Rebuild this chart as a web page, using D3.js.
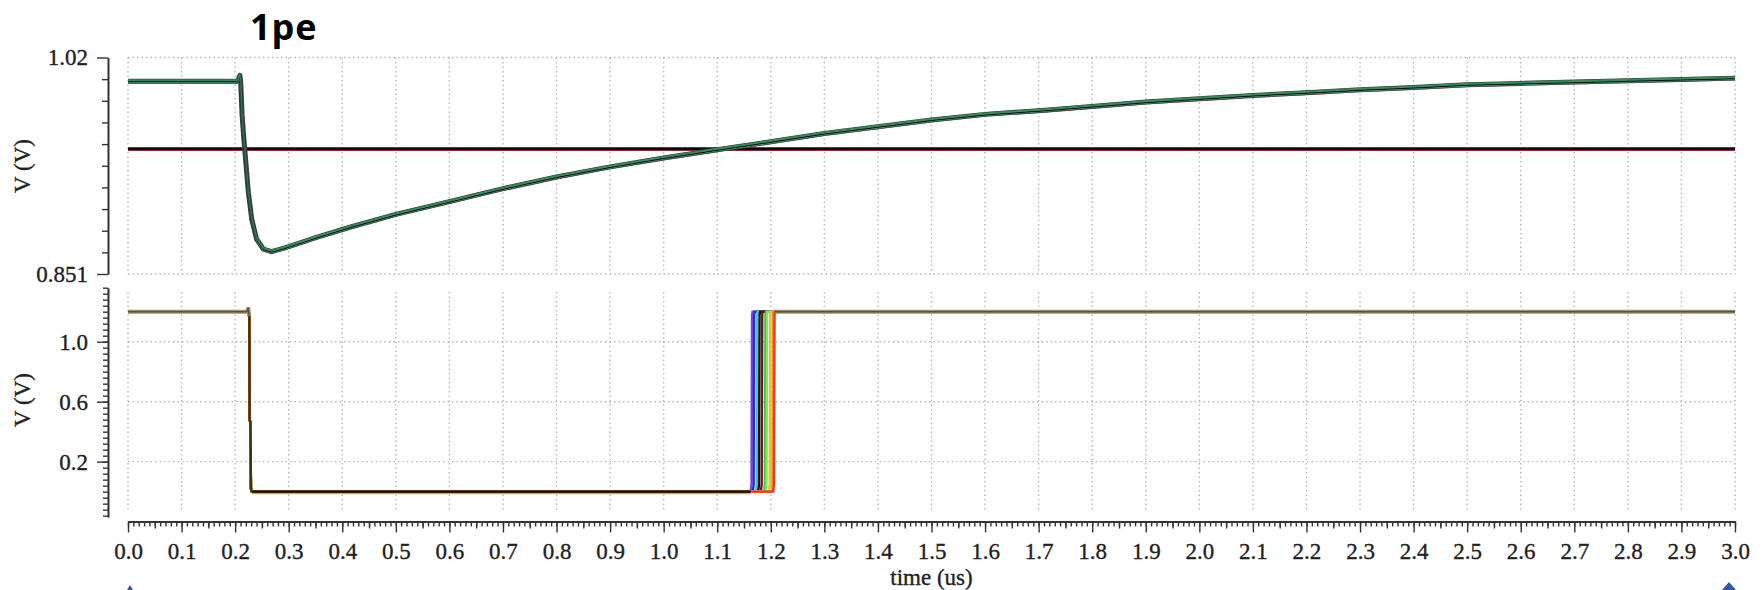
<!DOCTYPE html>
<html>
<head>
<meta charset="utf-8">
<script src="https://cdn.jsdelivr.net/npm/d3@7"></script>
<style>
  html, body { margin: 0; padding: 0; background: #fff; }
  svg { display: block; }
</style>
</head>
<body>
<svg id="chart" width="1763" height="590"></svg>
<script>
// ---------------- data ----------------
const title = "1pe";
const xLabel = "time (us)";
const yLabel = "V (V)";
const xTicks = [0.0,0.1,0.2,0.3,0.4,0.5,0.6,0.7,0.8,0.9,1.0,1.1,1.2,1.3,1.4,1.5,1.6,1.7,1.8,1.9,2.0,2.1,2.2,2.3,2.4,2.5,2.6,2.7,2.8,2.9,3.0];
const topYTicks = [0.851, 1.02];
const topYTickLabels = ["0.851", "1.02"];
const bottomYTicks = [0.2, 0.6, 1.0];

// top panel: analog output (bundle of overlapping runs)
const topT = [0, 0.205, 0.209, 0.2105, 0.213, 0.216, 0.218, 0.2247, 0.231, 0.240, 0.2527, 0.268, 0.296, 0.352, 0.414, 0.5, 0.6, 0.7, 0.8, 0.9, 1.0, 1.1, 1.2, 1.3, 1.4, 1.5, 1.6, 1.7, 1.8, 1.9, 2.0, 2.1, 2.2, 2.3, 2.4, 2.5, 2.6, 2.7, 2.8, 2.9, 3.0];
const topV = [1.0015, 1.0015, 1.006, 1.000, 0.975, 0.958, 0.948, 0.9146, 0.8938, 0.8783, 0.8705, 0.8684, 0.8718, 0.8796, 0.8875, 0.8975, 0.9075, 0.9176, 0.9267, 0.9346, 0.9416, 0.948, 0.9542, 0.9607, 0.9659, 0.9712, 0.9756, 0.9785, 0.9818, 0.9852, 0.9878, 0.9904, 0.9925, 0.9948, 0.9966, 0.9987, 0.9998, 1.0008, 1.0018, 1.0029, 1.0039];
const thresholdV = 0.9485;

// bottom panel: comparator output
const highLevel = 1.2;
const lowLevel = 0.0;
const dropT = [0, 0.222, 0.2245, 0.2255, 0.2265, 0.227, 0.2285, 0.2295, 0.231];
const dropV = [1.2, 1.2, 1.225, 1.19, 1.17, 0.48, 0.46, 0.02, 0.0];
const riseTimes = [1.164, 1.168, 1.1735, 1.178, 1.183, 1.189, 1.192, 1.198, 1.203, 1.206];
const riseColors = ["#7a3cf0", "#2b2bd0", "#2fd0d0", "#111111", "#7a1020", "#2ecc40", "#88e060", "#e8c030", "#f09030", "#e83a2a"];
const endT = 3.0;

// ---------------- layout ----------------
const svg = d3.select("#chart");
const X0 = 128, X1 = 1735;
const x = d3.scaleLinear().domain([0, 3]).range([X0, X1]);
const yTop = d3.scaleLinear().domain([0.851, 1.02]).range([274, 57.5]);
const yBot = d3.scaleLinear().domain([-0.169, 1.358]).range([517, 288]);
const SERIF = "'Liberation Serif', 'Times New Roman', serif";

const gridStyle = s => s.attr("stroke", "#b8b8b8").attr("stroke-width", 1.4).attr("stroke-dasharray", "1.5,3").attr("fill", "none");

// ---------- grids ----------
const gTopGrid = svg.append("g");
gTopGrid.selectAll("line.v").data(xTicks).join("line")
  .attr("x1", d => x(d)).attr("x2", d => x(d))
  .attr("y1", yTop(1.02)).attr("y2", yTop(0.851)).call(gridStyle);
gTopGrid.selectAll("line.h").data(topYTicks).join("line").attr("class", "h")
  .attr("x1", X0).attr("x2", X1)
  .attr("y1", d => yTop(d)).attr("y2", d => yTop(d)).call(gridStyle);

const gBotGrid = svg.append("g");
gBotGrid.selectAll("line.v").data(xTicks).join("line")
  .attr("x1", d => x(d)).attr("x2", d => x(d))
  .attr("y1", 292).attr("y2", 510).call(gridStyle);
gBotGrid.selectAll("line.h").data(bottomYTicks).join("line").attr("class", "h")
  .attr("x1", X0).attr("x2", X1)
  .attr("y1", d => yBot(d)).attr("y2", d => yBot(d)).call(gridStyle);

// ---------- top traces ----------
const topData = topT.map((t, i) => [t, topV[i]]);
const lineTop = d3.line().x(d => x(d[0])).y(d => yTop(d[1]));

// threshold line
const thr = [[0, thresholdV], [endT, thresholdV]];
svg.append("path").attr("d", lineTop(thr)).attr("stroke", "#7a3038").attr("stroke-width", 4).attr("fill", "none");
svg.append("path").attr("d", lineTop(thr)).attr("stroke", "#160607").attr("stroke-width", 2).attr("fill", "none");

// bundle of runs (same data, drawn in several colours)
const bundle = [
  {c: "#22443a", w: 5, dy: 0},
  {c: "#2e8b57", w: 1.4, dy: -1.3},
  {c: "#38b8b0", w: 1.1, dy: 1.3},
  {c: "#0c0c0c", w: 1.3, dy: 0.4},
  {c: "#3f8f5a", w: 1.1, dy: -0.5},
  {c: "#6a3a40", w: 0.7, dy: 1.8}
];
bundle.forEach(b => {
  svg.append("path").attr("d", lineTop(topData))
    .attr("transform", `translate(0,${b.dy})`)
    .attr("stroke", b.c).attr("stroke-width", b.w).attr("fill", "none")
    .attr("stroke-linejoin", "round");
});

// ---------- bottom traces ----------
const lineBot = d3.line().x(d => x(d[0])).y(d => yBot(d[1]));
const dropData = dropT.map((t, i) => [t, dropV[i]]);
riseTimes.forEach((rt, i) => {
  const pts = dropData.concat([[rt - 0.0015, lowLevel], [rt, 0.05], [rt + 0.001, highLevel - 0.02], [rt + 0.002, highLevel], [endT, highLevel]]);
  svg.append("path").attr("d", lineBot(pts))
    .attr("stroke", riseColors[i]).attr("stroke-width", 2.4).attr("fill", "none");
});
// overlapping common segments
const lastRise = d3.max(riseTimes);
const firstRise = d3.min(riseTimes);
const lowSeg = [[dropT[dropT.length - 1], lowLevel], [firstRise - 0.0015, lowLevel]];
svg.append("path").attr("d", lineBot(lowSeg)).attr("transform", "translate(0,1)")
  .attr("stroke", "#c8b440").attr("stroke-width", 3).attr("fill", "none");
svg.append("path").attr("d", lineBot(lowSeg))
  .attr("stroke", "#241c08").attr("stroke-width", 2.6).attr("fill", "none");
const highSegs = [dropData.slice(0, 5), [[lastRise + 0.002, highLevel], [endT, highLevel]]];
highSegs.forEach(seg => {
  svg.append("path").attr("d", lineBot(seg))
    .attr("stroke", "#9a9470").attr("stroke-width", 4).attr("fill", "none");
  svg.append("path").attr("d", lineBot(seg))
    .attr("stroke", "#5a5530").attr("stroke-width", 1.4).attr("fill", "none");
});
svg.append("path").attr("d", lineBot(dropData.slice(4)))
  .attr("stroke", "#3a3410").attr("stroke-width", 2.4).attr("fill", "none");

// ---------- axes ----------
const axisStyle = g => {
  g.attr("font-family", null).attr("font-size", null);
  g.select(".domain").attr("stroke", "#333").attr("stroke-width", 1.6);
  g.selectAll(".tick line").attr("stroke", "#333").attr("stroke-width", 1.4);
  g.selectAll("text")
    .style("font-family", SERIF).style("font-size", "23px")
    .attr("fill", "#222").attr("stroke", "#222").attr("stroke-width", 0.35);
};

// top y axis
const topMinor = d3.range(1, 10).map(i => 0.851 + i * (1.02 - 0.851) / 10);
svg.append("g").attr("transform", "translate(108,0)")
  .call(d3.axisLeft(yTop).tickValues(topMinor).tickSize(6).tickSizeOuter(0).tickFormat(""))
  .call(axisStyle);
svg.append("g").attr("transform", "translate(108,0)")
  .call(d3.axisLeft(yTop).tickValues(topYTicks).tickSize(11).tickSizeOuter(0).tickPadding(9)
    .tickFormat((d, i) => topYTickLabels[i]))
  .call(axisStyle);

// bottom y axis
const botMinor = d3.range(-4, 35).map(i => i * 0.04);
svg.append("g").attr("transform", "translate(108,0)")
  .call(d3.axisLeft(yBot).tickValues(botMinor).tickSize(5).tickSizeOuter(0).tickFormat(""))
  .call(axisStyle);
svg.append("g").attr("transform", "translate(108,0)")
  .call(d3.axisLeft(yBot).tickValues(bottomYTicks).tickSize(11).tickSizeOuter(0).tickPadding(9).tickFormat(d3.format(".1f")))
  .call(axisStyle);

// x axis
const xMinor = d3.range(0, 301).map(i => i / 100);
const xMid = d3.range(0, 30).map(i => i / 10 + 0.05);
svg.append("g").attr("transform", "translate(0,521.5)")
  .call(d3.axisBottom(x).tickValues(xMinor).tickSize(5).tickSizeOuter(0).tickFormat(""))
  .call(axisStyle);
svg.append("g").attr("transform", "translate(0,521.5)")
  .call(d3.axisBottom(x).tickValues(xMid).tickSize(7).tickSizeOuter(0).tickFormat(""))
  .call(axisStyle);
svg.append("g").attr("transform", "translate(0,521.5)")
  .call(d3.axisBottom(x).tickValues(xTicks).tickSize(11).tickSizeOuter(0).tickPadding(10).tickFormat(d3.format(".1f")))
  .call(axisStyle);

// ---------- labels ----------
const lbl = s => s.style("font-family", SERIF).style("font-size", "23px").attr("fill", "#222").attr("stroke", "#222").attr("stroke-width", 0.35);
svg.append("text").attr("x", (X0 + X1) / 2).attr("y", 585).attr("text-anchor", "middle")
  .call(lbl).text(xLabel);
[166, 400].forEach(cy => {
  svg.append("text").attr("transform", `translate(22,${cy}) rotate(-90)`)
    .attr("text-anchor", "middle").attr("dy", "0.35em").call(lbl).text(yLabel);
});
svg.append("text").attr("x", 250).attr("y", 40)
  .style("font-family", "'Open Sans', 'Liberation Sans', sans-serif")
  .style("font-weight", "bold").style("font-size", "36px").attr("letter-spacing", 1)
  .attr("fill", "#000").text(title);

// small blue arrow tips at the bottom edge (slide decoration)
svg.append("polygon").attr("points", "1722,590 1729,582 1736,590").attr("fill", "#2f58a8");
svg.append("polygon").attr("points", "127,590 130,585 133,590").attr("fill", "#2f58a8");
</script>
</body>
</html>
